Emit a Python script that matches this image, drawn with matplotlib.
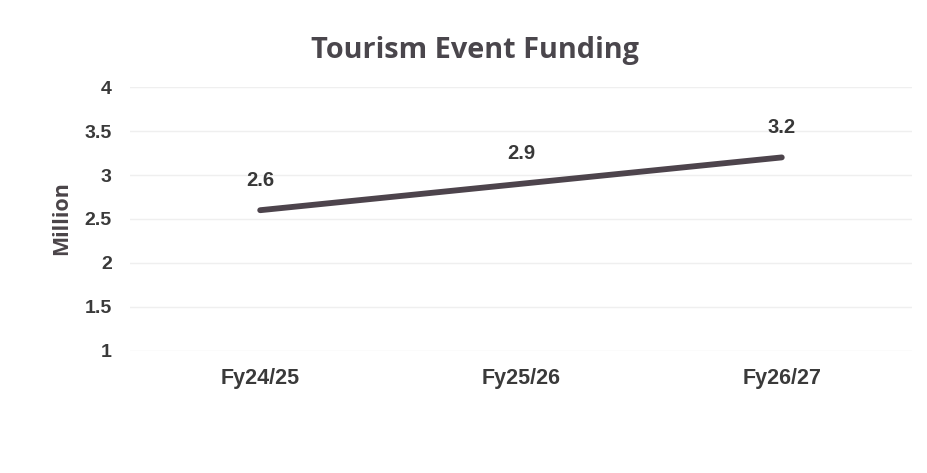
import matplotlib
matplotlib.use("Agg")
import matplotlib.pyplot as plt

categories = ["Fy24/25", "Fy25/26", "Fy26/27"]
values = [2.6, 2.9, 3.2]
yticks = [1, 1.5, 2, 2.5, 3, 3.5, 4]
ytick_labels = ["1", "1.5", "2", "2.5", "3", "3.5", "4"]

fig = plt.figure(figsize=(9.27, 4.73), dpi=100)
ax = fig.add_axes([0.140, 0.258, 0.844, 0.558])

x = list(range(len(categories)))
ax.plot(x, values, color="#4d444c", linewidth=4.2, solid_capstyle="round")
for xi, v in zip(x, values):
    ax.annotate(f"{v}", (xi, v), xytext=(0, 21.5), textcoords="offset points",
                ha="center", va="center", fontsize=14.5, fontweight="bold",
                color="#383838", family="Liberation Sans")

ax.set_xlim(-0.5, 2.5)
ax.set_ylim(1, 4)
ax.set_xticks(x)
ax.set_xticklabels(categories, fontsize=15.5, fontweight="bold", color="#3a3a3a",
                   family="Liberation Sans")
ax.set_yticks(yticks)
ax.set_yticklabels(ytick_labels, fontsize=14, fontweight="bold", color="#3a3a3a",
                   family="Liberation Sans")
ax.tick_params(axis="both", length=0)
ax.tick_params(axis="x", pad=12)
ax.tick_params(axis="y", pad=13)
ax.grid(axis="y", color="#efefef", linewidth=1)
for s in ax.spines.values():
    s.set_visible(False)

fig.text(62 / 927, 1 - 218 / 473, "Million", rotation=90, ha="center", va="center",
         fontsize=15.5, fontweight="bold", color="#4a4448", family="Open Sans")

fig.text(0.512, 0.893, "Tourism Event Funding", ha="center", va="center",
         fontsize=20.8, fontweight="bold", color="#4a464c", family="Open Sans")

fig.savefig("out.png", dpi=100, facecolor="white")
